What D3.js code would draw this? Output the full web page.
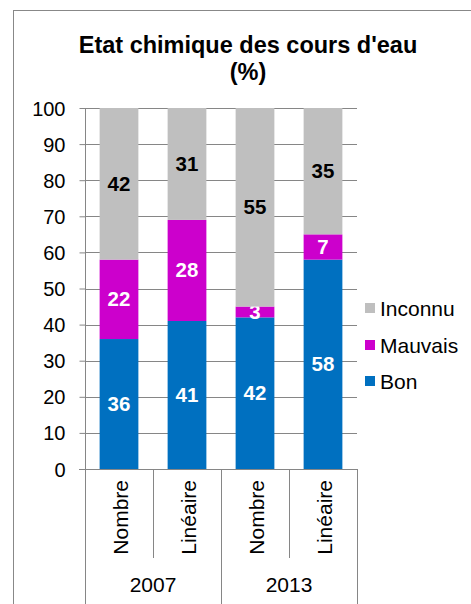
<!DOCTYPE html>
<html><head><meta charset="utf-8">
<script src="https://cdn.jsdelivr.net/npm/d3@7"></script>
<style>body{margin:0;background:#fff}svg{display:block}text{font-family:"Liberation Sans",Arial,sans-serif}</style>
</head><body><svg id="c" width="471" height="604"></svg>
<script>
const groups = ["2007","2007","2013","2013"];
const categories = ["Nombre","Linéaire","Nombre","Linéaire"];
const years = ["2007","2013"];
const bon = [36,41,42,58];
const mauvais = [22,28,3,7];
const inconnu = [42,31,55,35];
const seriesNames = ["Bon","Mauvais","Inconnu"];
const colors = ["#0070C0","#CC00CC","#BFBFBF"];
const labelColors = ["#fff","#fff","#000"];
const yTicks = [0,10,20,30,40,50,60,70,80,90,100];

const FF = '"Liberation Sans",Arial,sans-serif';
const svg = d3.select("#c");
const L=85,R=357,T=108,B=469;
svg.append("rect").attr("x",13.5).attr("y",10.5).attr("width",480).attr("height",620).attr("fill","none").attr("stroke","#888").attr("stroke-width",1);

svg.append("text").attr("x",248).attr("y",53).attr("text-anchor","middle").attr("font-weight","bold").attr("font-size",23.5).text("Etat chimique des cours d'eau");
svg.append("text").attr("x",248).attr("y",80).attr("text-anchor","middle").attr("font-weight","bold").attr("font-size",23.5).text("(%)");

const idx = d3.range(categories.length);
const x = d3.scaleBand().domain(idx).range([L,R]).paddingInner(0.43).paddingOuter(0.215);
const y = d3.scaleLinear().domain([0,100]).range([B,T]);

// grid
svg.append("g").selectAll("line").data(yTicks.slice(1)).join("line")
 .attr("x1",L).attr("x2",R).attr("y1",d=>Math.round(y(d))+0.5).attr("y2",d=>Math.round(y(d))+0.5)
 .attr("stroke","#868686").attr("stroke-width",1);

// bars
const table = idx.map(i=>({i,Bon:bon[i],Mauvais:mauvais[i],Inconnu:inconnu[i]}));
const stack = d3.stack().keys(seriesNames)(table);
stack.forEach((s,k)=>{
  const g = svg.append("g");
  g.selectAll("rect").data(s).join("rect")
   .attr("x",d=>x(d.data.i)).attr("width",x.bandwidth())
   .attr("y",d=>y(d[1])).attr("height",d=>y(d[0])-y(d[1]))
   .attr("fill",colors[k]);
  g.selectAll("text").data(s).join("text")
   .attr("x",d=>x(d.data.i)+x.bandwidth()/2)
   .attr("y",d=>y((d[0]+d[1])/2)+7)
   .attr("text-anchor","middle").attr("font-weight","bold").attr("font-size",20.5)
   .attr("fill",labelColors[k]).text(d=>d[1]-d[0]);
});

// y axis
const ya = svg.append("g").attr("transform",`translate(${L+0.5},0)`)
 .call(d3.axisLeft(y).tickValues(yTicks).tickSize(6).tickPadding(14));
ya.select(".domain").attr("stroke","#868686").attr("d",`M0,${T}V${B}`);
ya.selectAll(".tick line").attr("stroke","#868686");
ya.selectAll(".tick text").attr("font-size",20).attr("fill","#000").attr("font-family",FF).attr("dy","0.35em");

// x axis
svg.append("line").attr("x1",L-6).attr("x2",R+1).attr("y1",B+0.5).attr("y2",B+0.5).attr("stroke","#868686");
const step = x.step();
const seps = d3.range(categories.length+1).map(i=>L+i*step);
svg.append("g").selectAll("line").data(seps).join("line")
 .attr("x1",d=>Math.round(d)+0.5).attr("x2",d=>Math.round(d)+0.5)
 .attr("y1",B).attr("y2",(d,i)=>i%2===0?604:558)
 .attr("stroke","#868686");
svg.append("g").selectAll("text").data(idx).join("text")
 .attr("transform",i=>`translate(${x(i)+x.bandwidth()/2+8.5},480) rotate(-90)`)
 .attr("text-anchor","end").attr("font-size",21).text(i=>categories[i]);
svg.append("g").selectAll("text").data(years).join("text")
 .attr("x",(d,j)=>L+step*(2*j+1)).attr("y",592).attr("text-anchor","middle").attr("font-size",21).text(d=>d);

// legend
const leg = ["Inconnu","Mauvais","Bon"];
const legY = [303,340,376];
leg.forEach((n,j)=>{
  const k = seriesNames.indexOf(n);
  svg.append("rect").attr("x",365).attr("y",legY[j]).attr("width",10).attr("height",10).attr("fill",colors[k]);
  svg.append("text").attr("x",380).attr("y",legY[j]+13).attr("font-size",21).text(n);
});
</script></body></html>
